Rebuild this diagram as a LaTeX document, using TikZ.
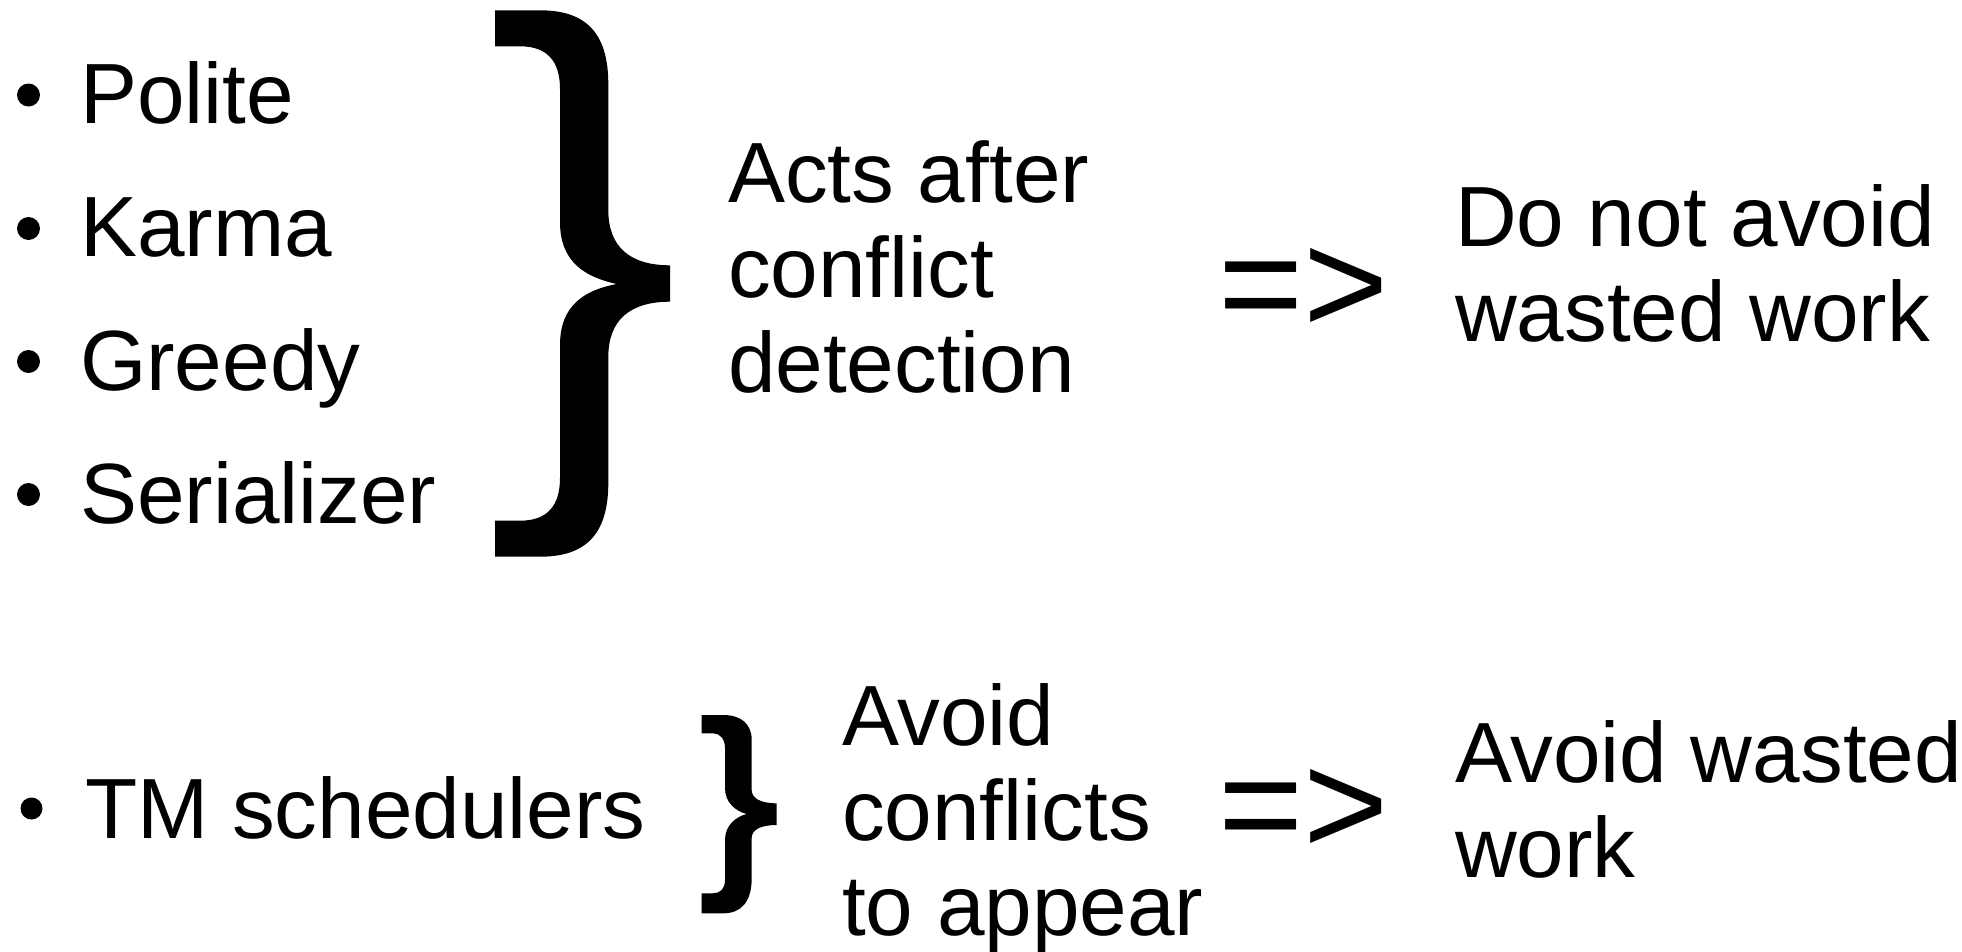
\documentclass[tikz,border=0pt]{standalone}
\usepackage{fontspec}
\setmainfont{Liberation Sans}
\begin{document}
\begin{tikzpicture}[x=1bp, y=-1bp,
  txt/.style={inner sep=0pt, outer sep=0pt, anchor=base west,
    font=\fontsize{85.5bp}{95bp}\selectfont},
  impl/.style={inner sep=0pt, outer sep=0pt, anchor=base west,
    font=\fontsize{146bp}{160bp}\selectfont},
  dot/.style={circle, fill=black, inner sep=0pt, minimum size=#1},
  dot/.default=23bp,
  bracefill/.style={fill=black, draw=none}]
\useasboundingbox (0,0) rectangle (1962,952);

% ---- first group: bulleted list ----
\node[dot] (b1) at (28.5, 95) {};
\node[dot] (b2) at (28.5, 228.5) {};
\node[dot] (b3) at (28.5, 361.5) {};
\node[dot] (b4) at (28.5, 494.5) {};
\node[txt] (polite) at (80, 123) {Polite};
\node[txt] (karma)  at (80, 256.5) {Karma};
\node[txt] (greedy) at (80, 390) {Greedy};
\node[txt] (serial) at (80, 523) {Serializer};

% large closing brace
\path[bracefill]
  (495,10.3) -- (540,10.3)
  .. controls (585,10.3) and (608.3,32) .. (608.3,84)
  -- (608.3,210)
  .. controls (608.3,247) and (630,265.3) .. (670,265.3)
  -- (670,301.7)
  .. controls (630,301.7) and (608.3,320) .. (608.3,357)
  -- (608.3,483)
  .. controls (608.3,535) and (585,556.7) .. (540,556.7)
  -- (495,556.7) -- (495,520.7) -- (520,520.7)
  .. controls (548,520.7) and (560,505) .. (560,478)
  -- (560,345)
  .. controls (560,305) and (585,290) .. (616.7,284)
  .. controls (585,277) and (560,262) .. (560,222)
  -- (560,89)
  .. controls (560,62) and (548,46.3) .. (520,46.3)
  -- (495,46.3) -- cycle;

\node[txt] (acts) at (728, 202)
  {\begin{tabular}[t]{@{}l@{}}Acts after\\conflict\\detection\end{tabular}};
\node[impl] (imp1) at (1218, 333) {=>};
\node[txt] (nowaste) at (1455, 246)
  {\begin{tabular}[t]{@{}l@{}}Do not avoid\\wasted work\end{tabular}};

% ---- second group ----
\node[dot=22bp] (b5) at (31.5, 808.5) {};
\node[txt] (tm) at (85, 838) {TM schedulers};

% small closing brace
\path[bracefill]
  (701.7,715) -- (723.3,715)
  .. controls (741,715) and (751.7,724) .. (751.7,740)
  -- (751.7,790)
  .. controls (751.7,798) and (760,803.3) .. (776.7,803.3)
  -- (776.7,825)
  .. controls (760,825) and (751.7,830) .. (751.7,838)
  -- (751.7,878)
  .. controls (751.7,902) and (741,913.3) .. (723.3,913.3)
  -- (701.7,913.3) -- (701.7,893.3) -- (713,893.3)
  .. controls (720,893.3) and (725,889) .. (725,880)
  -- (725,840)
  .. controls (725,826) and (735,817) .. (746.7,814)
  .. controls (735,811) and (725,802) .. (725,788)
  -- (725,748)
  .. controls (725,739) and (720,733.3) .. (713,733.3)
  -- (701.7,733.3) -- cycle;

\node[txt] (avoidc) at (842, 745)
  {\begin{tabular}[t]{@{}l@{}}Avoid\\conflicts\\to appear\end{tabular}};
\node[impl] (imp2) at (1218, 854) {=>};
\node[txt] (avoidw) at (1455, 782)
  {\begin{tabular}[t]{@{}l@{}}Avoid wasted\\work\end{tabular}};
\end{tikzpicture}
\end{document}
